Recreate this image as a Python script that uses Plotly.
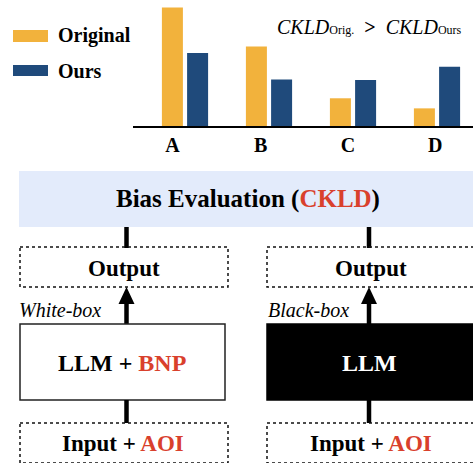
import plotly.graph_objects as go

# ---- data ----
categories = ["A", "B", "C", "D"]
original = [0.94, 0.63, 0.22, 0.14]
ours = [0.58, 0.37, 0.365, 0.47]
series_names = ["Original", "Ours"]

ORANGE = "#F2B23C"
BLUE = "#1F4A7B"
RED = "#D9402C"
SERIF = "Liberation Serif, Times New Roman, serif"

W, H = 473, 463
cat_x = list(range(len(categories)))
tick_pos = [-0.15, 0.9, 1.94, 2.98]

fig = go.Figure()
fig.add_trace(go.Bar(x=cat_x, y=original, name=series_names[0], marker_color=ORANGE,
                     width=0.25, offset=-0.275, showlegend=False, marker_line_width=0))
fig.add_trace(go.Bar(x=cat_x, y=ours, name=series_names[1], marker_color=BLUE,
                     width=0.25, offset=0.025, showlegend=False, marker_line_width=0))

# pixel-space helper axes (x2/y2)
fig.add_trace(go.Scatter(x=[0], y=[0], xaxis="x2", yaxis="y2", mode="markers",
                         marker=dict(opacity=0), showlegend=False, hoverinfo="skip"))

x0_px = 133
dom_bottom_px = 126
fig.update_layout(
    width=W, height=H, margin=dict(l=0, r=0, t=0, b=0),
    paper_bgcolor="white", plot_bgcolor="rgba(0,0,0,0)",
    barmode="overlay",
    xaxis=dict(domain=[x0_px / W, 1], range=[-(185 - x0_px) / 84, 3 + (473 - 437) / 84],
               showgrid=False, zeroline=False, showline=True, linecolor="black", linewidth=2,
               tickvals=tick_pos, ticktext=[f"<b>{c}</b>" for c in categories],
               ticks="", ticklabelstandoff=0,
               tickfont=dict(family=SERIF, size=20, color="black")),
    yaxis=dict(domain=[(H - dom_bottom_px) / H, 1], range=[0, 1], visible=False),
    xaxis2=dict(domain=[0, 1], range=[0, W], visible=False, anchor="y2"),
    yaxis2=dict(domain=[0, 1], range=[H, 0], visible=False, anchor="x2"),
    showlegend=False,
)

shapes = []
ann = []

def rect(x0, y0, x1, y1, **kw):
    shapes.append(dict(type="rect", xref="x2", yref="y2", x0=x0, y0=y0, x1=x1, y1=y1, **kw))

def text(x, y, t, size, color="black", **kw):
    ann.append(dict(xref="x2", yref="y2", x=x, y=y, text=t, showarrow=False,
                    font=dict(family=SERIF, size=size, color=color), **kw))

# legend
rect(13, 30, 48, 42, fillcolor=ORANGE, line=dict(width=0))
rect(13, 65, 48, 76, fillcolor=BLUE, line=dict(width=0))
text(56, 35, f"<b>{series_names[0]}</b>", 20, xanchor="left", yanchor="middle")
text(56, 71, f"<b>{series_names[1]}</b>", 20, xanchor="left", yanchor="middle")

# CKLD annotation
text(464, 27, "<i>CKLD</i><span style='font-size:12px'>Orig.</span>&nbsp;&nbsp;<b>&gt;</b>&nbsp;&nbsp;"
              "<i>CKLD</i><span style='font-size:12px'>Ours</span>", 20,
     xanchor="right", yanchor="middle")

# Bias evaluation box
rect(19, 171, 480, 227, fillcolor="#E3EBFB", line=dict(width=0))
text(248, 199, f"<b>Bias Evaluation (<span style='color:{RED}'>CKLD</span>)</b>", 25,
     xanchor="center", yanchor="middle")

LINE_W = 4.5
for cx in (126.5, 369):
    shapes.append(dict(type="line", xref="x2", yref="y2", x0=cx, x1=cx, y0=227, y1=248,
                       line=dict(color="black", width=LINE_W)))

dotted = dict(color="#111111", width=1.5, dash="dot")
# output boxes
rect(20, 247, 228, 287, line=dotted, fillcolor="rgba(0,0,0,0)")
rect(267, 247, 485, 287, line=dotted, fillcolor="rgba(0,0,0,0)")
text(124, 268, "<b>Output</b>", 23)
text(371, 268, "<b>Output</b>", 23)

# arrows up from LLM boxes
for cx in (126.5, 369):
    shapes.append(dict(type="line", xref="x2", yref="y2", x0=cx, x1=cx, y0=324, y1=302,
                       line=dict(color="black", width=LINE_W)))
    shapes.append(dict(type="path", xref="x2", yref="y2",
                       path=f"M{cx-8},304 L{cx+8},304 L{cx},287 Z",
                       fillcolor="black", line=dict(width=0)))

text(17, 310, "<i>White-box</i>", 20, xanchor="left", yanchor="middle")
text(266, 310, "<i>Black-box</i>", 20, xanchor="left", yanchor="middle")

# LLM boxes
rect(20, 324, 225, 400, fillcolor="white", line=dict(color="#222222", width=1.5))
rect(267, 324, 485, 400, fillcolor="black", line=dict(color="black", width=1.5))
text(122, 363, f"<b>LLM + <span style='color:{RED}'>BNP</span></b>", 24)
text(369, 363, "<b>LLM</b>", 24, color="white")

# lines to input boxes
for cx in (126.5, 369):
    shapes.append(dict(type="line", xref="x2", yref="y2", x0=cx, x1=cx, y0=400, y1=423,
                       line=dict(color="black", width=LINE_W)))

# input boxes
rect(20, 423, 228, 463, line=dotted, fillcolor="rgba(0,0,0,0)")
rect(267, 423, 485, 463, line=dotted, fillcolor="rgba(0,0,0,0)")
text(123, 443, f"<b>Input + <span style='color:{RED}'>AOI</span></b>", 23)
text(371, 443, f"<b>Input + <span style='color:{RED}'>AOI</span></b>", 23)

fig.update_layout(shapes=shapes, annotations=ann)
fig.write_html("out.html", config={"displayModeBar": False},
               post_script="document.body.style.margin='0';document.body.style.overflow='hidden';")
